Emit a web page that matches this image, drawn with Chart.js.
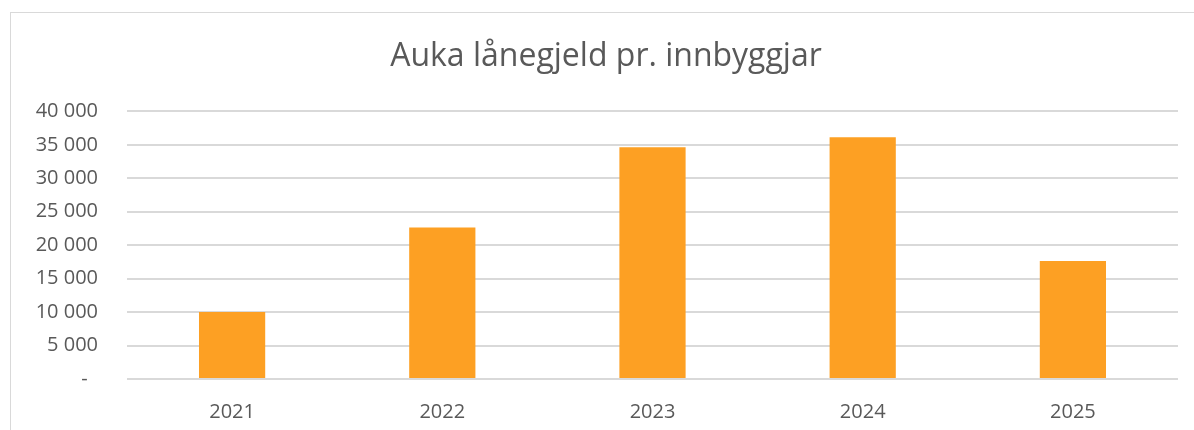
<!DOCTYPE html>
<html>
<head>
<meta charset="utf-8">
<script src="https://cdn.jsdelivr.net/npm/chart.js@4"></script>
<style>
    html, body { margin: 0; padding: 0; background: #fff; }
    #wrap { position: relative; width: 1194px; height: 430px; overflow: hidden; }
    #frame { position: absolute; left: 10px; top: 12px; width: 1300px; height: 600px; border: 1px solid #D9D9D9; box-sizing: border-box; }
    #box { position: absolute; left: 0; top: 0; width: 1194px; height: 430px; }
</style>
</head>
<body>
<div id="wrap">
    <div id="frame"></div>
    <div id="box"><canvas id="debtChart"></canvas></div>
</div>
<script>
const years = ['2021', '2022', '2023', '2024', '2025'];
const debtPerInhabitant = [10000, 22650, 34650, 36150, 17650];
const yTickValues = [0, 5000, 10000, 15000, 20000, 25000, 30000, 35000, 40000];
const yTickLabels = ['-  ', '5 000', '10 000', '15 000', '20 000', '25 000', '30 000', '35 000', '40 000'];

document.addEventListener('DOMContentLoaded', () => {
    const ctx = document.getElementById('debtChart').getContext('2d');
    const textColor = '#595959';
    const debtChart = new Chart(ctx, {
        type: 'bar',
        data: {
            labels: years,
            datasets: [{
                label: 'Auka lånegjeld pr. innbyggjar',
                data: debtPerInhabitant,
                backgroundColor: '#FDA023',
                borderWidth: 0,
                categoryPercentage: 1,
                barPercentage: 0.315
            }]
        },
        options: {
            responsive: true,
            maintainAspectRatio: false,
            animation: false,
            // left padding keeps the title centred on the frame, not the canvas
            layout: { padding: { top: 38, right: 16, bottom: 0, left: 34 } },
            plugins: {
                legend: { display: false },
                tooltip: { enabled: false },
                title: {
                    display: true,
                    text: 'Auka lånegjeld pr. innbyggjar',
                    color: textColor,
                    font: { family: 'Open Sans', size: 32, weight: 'normal' },
                    padding: { top: 0, bottom: 35 }
                }
            },
            scales: {
                x: {
                    grid: { display: false },
                    border: { display: false },
                    ticks: {
                        color: textColor,
                        font: { family: 'Open Sans', size: 20 },
                        padding: 13
                    },
                    afterFit: (scale) => { scale.height = 51; }
                },
                y: {
                    min: 0,
                    max: 40000,
                    grid: { color: '#D9D9D9', lineWidth: 2, drawTicks: false },
                    border: { display: false },
                    afterBuildTicks: (scale) => {
                        scale.ticks = yTickValues.map(v => ({ value: v }));
                    },
                    ticks: {
                        color: textColor,
                        font: { family: 'Open Sans', size: 20 },
                        padding: 29,
                        callback: (value) => yTickLabels[yTickValues.indexOf(value)]
                    },
                    afterFit: (scale) => { scale.width = 93; }
                }
            }
        }
    });
});
</script>
</body>
</html>
